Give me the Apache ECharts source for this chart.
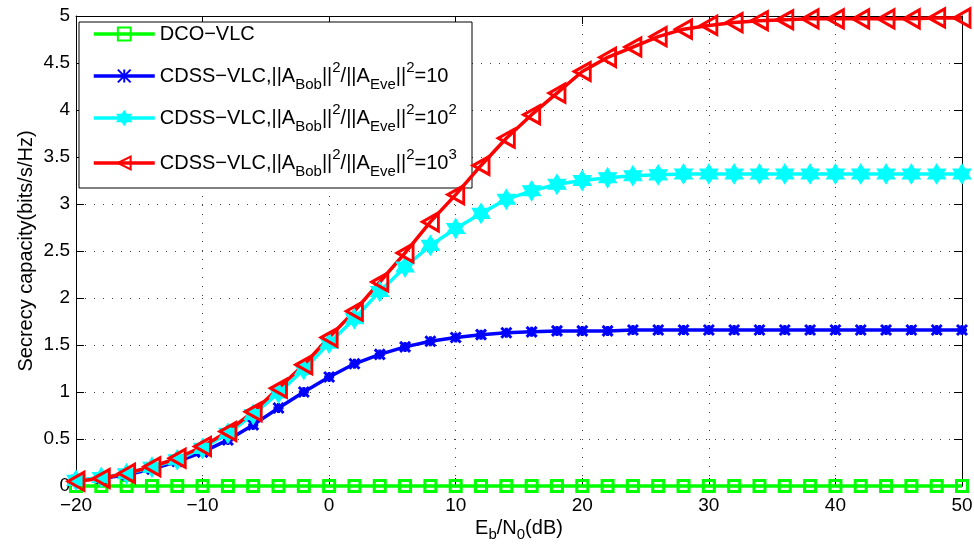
<!DOCTYPE html>
<html>
<head>
<meta charset="utf-8">
<script src="https://cdn.jsdelivr.net/npm/echarts@6/dist/echarts.min.js"></script>
<style>
  html, body { margin: 0; padding: 0; background: #fff; }
  #main { width: 974px; height: 548px; }
</style>
</head>
<body>
<div id="main"></div>
<script>
const FONT = '"Liberation Sans", Arial, Helvetica, sans-serif'

// Eb/N0 in dB
const snrDb = [-20, -18, -16, -14, -12, -10, -8, -6, -4, -2, 0, 2, 4, 6, 8, 10, 12, 14,
  16, 18, 20, 22, 24, 26, 28, 30, 32, 34, 36, 38, 40, 42, 44, 46, 48, 50]

const dcoVlc = [0, 0, 0, 0, 0, 0, 0, 0, 0, 0, 0, 0, 0, 0, 0, 0, 0, 0,
  0, 0, 0, 0, 0, 0, 0, 0, 0, 0, 0, 0, 0, 0, 0, 0, 0, 0]

const cdssRatio10 = [0.06, 0.08, 0.12, 0.18, 0.26, 0.36, 0.49, 0.65, 0.83, 1.00, 1.16, 1.30, 1.40, 1.48, 1.54, 1.58, 1.61, 1.63,
  1.64, 1.65, 1.65, 1.65, 1.66, 1.66, 1.66, 1.66, 1.66, 1.66, 1.66, 1.66, 1.66, 1.66, 1.66, 1.66, 1.66, 1.66]

const cdssRatio100 = [0.06, 0.09, 0.13, 0.20, 0.28, 0.40, 0.56, 0.76, 0.99, 1.24, 1.52, 1.78, 2.07, 2.33, 2.56, 2.74, 2.90, 3.05,
  3.14, 3.21, 3.25, 3.28, 3.30, 3.31, 3.32, 3.32, 3.32, 3.32, 3.32, 3.32, 3.32, 3.32, 3.32, 3.32, 3.32, 3.32]

const cdssRatio1000 = [0.05, 0.08, 0.135, 0.205, 0.295, 0.42, 0.58, 0.79, 1.04, 1.29, 1.58, 1.86, 2.17, 2.48, 2.81, 3.10, 3.41, 3.70,
  3.95, 4.18, 4.41, 4.56, 4.67, 4.78, 4.86, 4.90, 4.93, 4.95, 4.96, 4.97, 4.97, 4.97, 4.97, 4.97, 4.98, 4.98]

const seriesNames = ['DCO-VLC', 'CDSS-VLC 10', 'CDSS-VLC 100', 'CDSS-VLC 1000']
const ratioPrefix = '{n|CDSS−VLC,||A}{sub|Bob}{n|||}{sup|2}{n|/||A}{sub|Eve}{n|||}{sup|2}'
const legendLabels = [
  '{n|DCO−VLC}',
  ratioPrefix + '{n|=10}',
  ratioPrefix + '{n|=10}{sup|2}',
  ratioPrefix + '{n|=10}{sup|3}',
]
const legendCenters = [40, 76, 118, 163]

const richText = {
  n: { fontSize: 20, lineHeight: 32, fontFamily: FONT, color: '#000' },
  sub: { fontSize: 15, lineHeight: 12, verticalAlign: 'bottom', fontFamily: FONT, color: '#000' },
  sup: { fontSize: 15, lineHeight: 20, verticalAlign: 'top', fontFamily: FONT, color: '#000' },
}

const ASTERISK = 'path://M0,0L10,10M10,0L0,10M5,0L5,10M0,5L10,5'
const HEXAGRAM = 'path://M0,-10L2.89,-5L8.66,-5L5.77,0L8.66,5L2.89,5L0,10L-2.89,5L-8.66,5L-5.77,0L-8.66,-5L-2.89,-5Z'
const LEFT_TRIANGLE = 'path://M0,5L10,0L10,10Z'
const LINE_WIDTH = 3.5

function toPairs(values) {
  return snrDb.map((x, i) => [x, values[i]])
}

function lineSeries(name, values, color, symbol, symbolSize, itemStyle) {
  return {
    name,
    type: 'line',
    data: toPairs(values),
    symbol,
    symbolSize,
    clip: false,
    lineStyle: { color, width: LINE_WIDTH },
    itemStyle,
  }
}

const tickStyle = { show: true, inside: true, length: 8, lineStyle: { color: '#000', width: 1 } }
const axisLine = { show: true, onZero: false, lineStyle: { color: '#000', width: 1 } }
const dotted = { show: true, lineStyle: { type: [1, 8], color: '#444', width: 1 } }

const chart = echarts.init(document.getElementById('main'))

chart.setOption({
  animation: false,
  backgroundColor: '#fff',
  grid: { left: 76, right: 12, top: 16, bottom: 62, outerBoundsMode: 'none' },
  xAxis: [{
    type: 'value',
    min: -20,
    max: 50,
    interval: 10,
    position: 'bottom',
    axisLine,
    axisTick: tickStyle,
    splitLine: dotted,
    axisLabel: {
      color: '#000', fontSize: 19, fontFamily: FONT, margin: 10,
      formatter: v => String(v).replace('-', '−'),
    },
    name: '{n|E}{sub|b}{n|/N}{sub|0}{n|(dB)}',
    nameLocation: 'middle',
    nameGap: 28,
    nameMoveOverlap: false,
    nameTextStyle: { rich: {
      n: { fontSize: 20, lineHeight: 28, fontFamily: FONT, color: '#000' },
      sub: { fontSize: 15, lineHeight: 10, verticalAlign: 'bottom', fontFamily: FONT, color: '#000' },
    } },
  }, {
    type: 'value',
    min: -20,
    max: 50,
    interval: 10,
    position: 'top',
    axisLine,
    axisTick: tickStyle,
    splitLine: { show: false },
    axisLabel: { show: false },
  }],
  yAxis: [{
    type: 'value',
    min: 0,
    max: 5,
    interval: 0.5,
    position: 'left',
    axisLine,
    axisTick: tickStyle,
    splitLine: dotted,
    axisLabel: { color: '#000', fontSize: 19, fontFamily: FONT, margin: 6 },
    name: 'Secrecy capacity(bits/s/Hz)',
    nameLocation: 'middle',
    nameGap: 40,
    nameMoveOverlap: false,
    nameTextStyle: { color: '#000', fontSize: 20, fontFamily: FONT },
  }, {
    type: 'value',
    min: 0,
    max: 5,
    interval: 0.5,
    position: 'right',
    axisLine,
    axisTick: tickStyle,
    splitLine: { show: false },
    axisLabel: { show: false },
  }],
  graphic: [{
    type: 'rect',
    z: 3,
    shape: { x: 79, y: 22, width: 393, height: 166 },
    style: { fill: '#fff', stroke: '#000', lineWidth: 1 },
  }],
  legend: seriesNames.map((name, i) => ({
    data: [name],
    left: 92,
    top: legendCenters[i] - 16,
    padding: 0,
    itemWidth: 61,
    itemHeight: 16,
    selectedMode: false,
    lineStyle: { width: LINE_WIDTH },
    formatter: n => legendLabels[seriesNames.indexOf(n)],
    textStyle: { color: '#000', fontSize: 20, fontFamily: FONT, rich: richText },
  })),
  series: [
    lineSeries(seriesNames[0], dcoVlc, '#00ff00', 'rect', 11,
      { color: 'rgba(0,0,0,0)', borderColor: '#00ff00', borderWidth: 3 }),
    lineSeries(seriesNames[1], cdssRatio10, '#0000ff', ASTERISK, 10,
      { color: 'rgba(0,0,0,0)', borderColor: '#0000ff', borderWidth: 3 }),
    lineSeries(seriesNames[2], cdssRatio100, '#00ffff', HEXAGRAM, [18, 20],
      { color: '#00ffff', borderColor: '#00ffff', borderWidth: 1 }),
    lineSeries(seriesNames[3], cdssRatio1000, '#ff0000', LEFT_TRIANGLE, [16, 18],
      { color: 'rgba(0,0,0,0)', borderColor: '#ff0000', borderWidth: 3 }),
  ],
})
</script>
</body>
</html>
